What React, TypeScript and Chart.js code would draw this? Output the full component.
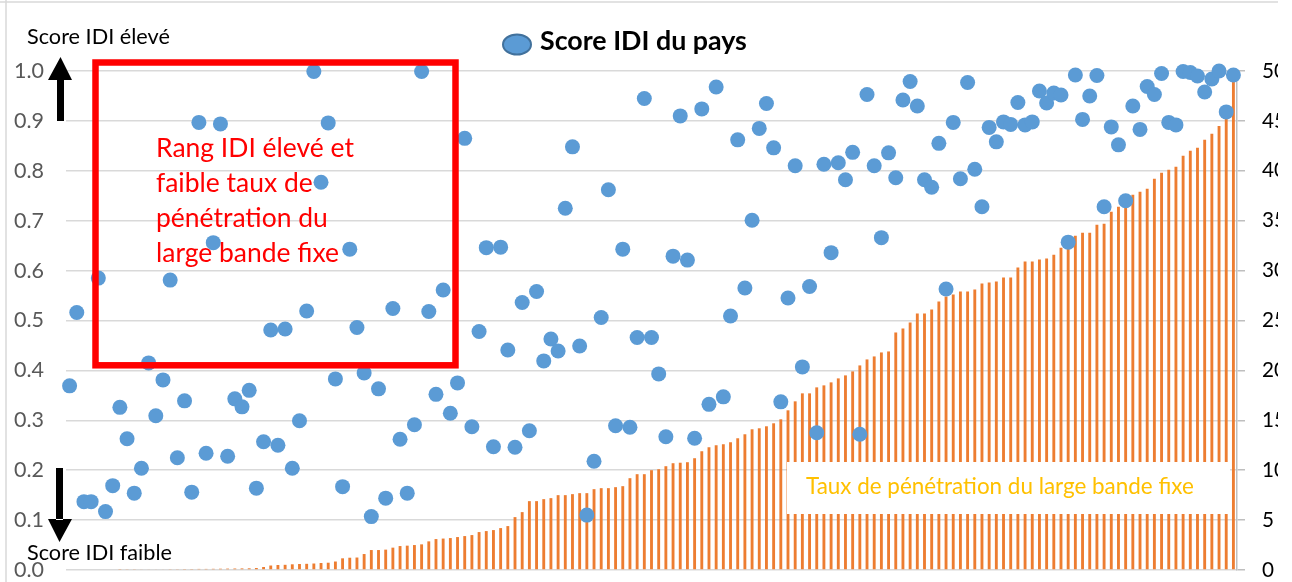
import React, { useEffect, useRef } from "react";
import { Chart, registerables } from "chart.js";
Chart.register(...registerables);

// Countries ranked by fixed broadband penetration (ascending)
const countryRanks: string[] = Array.from({ length: 163 }, (_, i) => String(i + 1));

// Fixed broadband penetration rate (per 100 inhabitants), right axis
const penetration: number[] = [
  0, 0, 0, 0, 0, 0, 0,
  0.05, 0.06, 0.06, 0.07, 0.07, 0.08, 0.08, 0.09, 0.09, 0.10, 0.10, 0.11, 0.11, 0.12, 0.13, 0.14, 0.15, 0.16, 0.17, 0.20,
  0.30, 0.45, 0.50, 0.52, 0.57, 0.60, 0.62, 0.65, 0.70, 0.73, 0.85, 1.17, 1.23, 1.25, 1.60, 2.00, 2.00, 2.04, 2.24, 2.40, 2.44, 2.50, 2.57, 2.87, 3.10, 3.15, 3.20,
  3.3, 3.4, 3.5, 3.8, 3.9, 4.0, 4.2, 4.4, 5.3, 5.8,
  6.9, 6.9, 7.1, 7.2, 7.5, 7.5, 7.6, 7.7, 7.7, 8.1,
  8.2, 8.2, 8.3, 8.4, 9.2, 9.6, 9.6, 10.0, 10.1, 10.4,
  10.7, 10.75, 10.8, 11.2, 11.9, 12.3, 12.5, 12.6, 12.8, 13.2,
  13.6, 14.1, 14.2, 14.4, 14.7, 15.1, 16.0, 16.9, 17.7, 17.7,
  18.3, 18.5, 18.8, 19.2, 19.5,
  19.9, 20.5, 21.1, 21.4, 21.8, 21.9, 23.8, 24.2, 24.8, 25.7,
  25.7, 26.1, 26.9, 27.4, 27.6, 27.9, 27.9, 28.1, 28.7, 28.8,
  28.9, 29.3, 29.3, 30.3, 30.9, 30.9, 31.1, 31.2, 31.6, 32.3,
  32.7, 33.5, 33.8, 33.8, 34.6, 34.7, 35.9, 36.4, 37.0, 37.6,
  37.9, 38.2, 39.2, 39.8, 40.1, 40.4, 41.5, 42.0, 42.3, 43.1,
  43.7, 44.5, 45.5, 49.5,
];

// IDI score of each country (normalised 0-1), left axis
const idiScore: number[] = [
  0.369, 0.516, 0.137, 0.137, 0.585, 0.117, 0.169, 0.326, 0.263, 0.154,
  0.204, 0.415, 0.309, 0.381, 0.581, 0.225, 0.339, 0.156, 0.897, 0.234,
  0.656, 0.894, 0.228, 0.343, 0.327, 0.360, 0.164, 0.257, 0.481, 0.250,
  0.483, 0.204, 0.299, 0.519, 0.999, 0.777, 0.896, 0.383, 0.167, 0.643,
  0.486, 0.395, 0.107, 0.363, 0.144, 0.524, 0.262, 0.154, 0.291, 0.999,
  0.518, 0.352, 0.561, 0.314, 0.375, 0.865, 0.287, 0.478, 0.646, 0.247,
  0.647, 0.441, 0.246, 0.536, 0.279, 0.558, 0.419, 0.463, 0.439, 0.725,
  0.848, 0.449, 0.110, 0.218, 0.506, 0.762, 0.289, 0.643, 0.286, 0.466,
  0.945, 0.466, 0.393, 0.267, 0.629, 0.910, 0.621, 0.264, 0.924, 0.332,
  0.968, 0.347, 0.509, 0.862, 0.565, 0.701, 0.885, 0.935, 0.846, 0.337,
  0.545, 0.810, 0.407, 0.568, 0.275, 0.813, 0.636, 0.816, 0.782, 0.837,
  0.272, 0.953, 0.810, 0.666, 0.836, 0.786, 0.942, 0.979, 0.930, 0.782,
  0.767, 0.855, 0.563, 0.897, 0.784, 0.977, 0.803, 0.728, 0.887, 0.858,
  0.898, 0.893, 0.937, 0.892, 0.898, 0.960, 0.936, 0.956, 0.952, 0.657,
  0.992, 0.903, 0.950, 0.991, 0.728, 0.888, 0.852, 0.740, 0.930, 0.883,
  0.969, 0.953, 0.995, 0.897, 0.892, 0.999, 0.997, 0.990, 0.958, 0.984,
  1.0, 0.918, 0.992,
];

const legendLabel = "Score IDI du pays";
const barLabel = "Taux de pénétration du large bande fixe";
const topLabel = "Score IDI élevé";
const bottomLabel = "Score IDI faible";
const boxLines = ["Rang IDI élevé et", "faible taux de", "pénétration du", "large bande fixe"];

const FONT = "Lato, 'Liberation Sans', sans-serif";
const W = 1278;
const H = 582;

function fitSize(text: string, weight: string, target: number): number {
  const c = document.createElement("canvas").getContext("2d")!;
  c.font = `${weight} 100px ${FONT}`;
  const w = c.measureText(text).width;
  return (100 * target) / w;
}

export default function App() {
  const ref = useRef<HTMLCanvasElement | null>(null);

  useEffect(() => {
    const canvas = ref.current;
    if (!canvas) return;

    const leftTickSize = fitSize("1.0", "normal", 30);
    const rightTickSize = fitSize("50", "normal", 24);
    const legendSize = fitSize(legendLabel, "bold", 207);
    const barLabelSize = fitSize(barLabel, "normal", 388);
    const sideSize = fitSize(topLabel, "normal", 143);
    const boxSize = fitSize(boxLines[0], "normal", 198);

    const annot = {
      id: "annot",
      beforeDraw(chart: any) {
        const ctx = chart.ctx;
        ctx.save();
        ctx.strokeStyle = "#D9D9D9";
        ctx.lineWidth = 1.5;
        ctx.beginPath();
        ctx.moveTo(0, 2);
        ctx.lineTo(W, 2);
        ctx.moveTo(6, 0);
        ctx.lineTo(6, H);
        ctx.stroke();
        ctx.restore();
      },
      afterDatasetsDraw(chart: any) {
        const ctx = chart.ctx;
        ctx.save();
        ctx.fillStyle = "#FFFFFF";
        ctx.fillRect(787, 462, 443, 52);
        ctx.fillStyle = "#FFC000";
        ctx.font = `normal ${barLabelSize}px ${FONT}`;
        ctx.textBaseline = "alphabetic";
        ctx.textAlign = "left";
        ctx.fillText(barLabel, 806, 494);
        ctx.restore();
      },
      afterDraw(chart: any) {
        const ctx = chart.ctx;
        ctx.save();
        // red frame
        ctx.strokeStyle = "#FF0000";
        ctx.lineWidth = 6.5;
        ctx.strokeRect(95.5, 62.5, 360, 302.8);
        // red text
        ctx.fillStyle = "#FF0000";
        ctx.font = `normal ${boxSize}px ${FONT}`;
        ctx.textAlign = "left";
        ctx.textBaseline = "alphabetic";
        boxLines.forEach((t, k) => ctx.fillText(t, 156, 157 + k * 35));
        // side labels
        ctx.fillStyle = "#000000";
        ctx.font = `normal ${sideSize}px ${FONT}`;
        ctx.fillText(topLabel, 27, 44);
        ctx.fillText(bottomLabel, 27, 560);
        // arrows
        ctx.beginPath();
        ctx.rect(57, 79, 7, 42);
        ctx.moveTo(48, 80);
        ctx.lineTo(60.5, 57);
        ctx.lineTo(72, 80);
        ctx.closePath();
        ctx.fill();
        ctx.beginPath();
        ctx.rect(56, 468, 7, 52);
        ctx.moveTo(48, 519);
        ctx.lineTo(59.5, 542);
        ctx.lineTo(72, 519);
        ctx.closePath();
        ctx.fill();
        // legend
        ctx.beginPath();
        ctx.ellipse(517, 44.5, 14, 10, 0, 0, Math.PI * 2);
        ctx.fillStyle = "#5B9BD5";
        ctx.fill();
        ctx.strokeStyle = "#41719C";
        ctx.lineWidth = 2;
        ctx.stroke();
        ctx.fillStyle = "#000000";
        ctx.font = `bold ${legendSize}px ${FONT}`;
        ctx.fillText(legendLabel, 540, 50);
        ctx.restore();
      },
    };

    const chart = new Chart(canvas, {
      type: "bar",
      data: {
        labels: countryRanks,
        datasets: [
          {
            type: "line",
            label: legendLabel,
            data: idiScore,
            yAxisID: "y",
            showLine: false,
            pointRadius: 7.5,
            pointBackgroundColor: "#5B9BD5",
            pointBorderWidth: 0,
            borderColor: "#5B9BD5",
            clip: false as any,
            order: 0,
          } as any,
          {
            type: "bar",
            label: barLabel,
            data: penetration,
            yAxisID: "y1",
            backgroundColor: "#ED7D31",
            barPercentage: 0.4,
            categoryPercentage: 1,
            order: 1,
          },
        ],
      },
      options: {
        responsive: false,
        animation: false,
        devicePixelRatio: 1,
        layout: { padding: { left: 0, right: 0, top: 71, bottom: 12 } },
        plugins: { legend: { display: false }, tooltip: { enabled: false } },
        scales: {
          x: { display: false, offset: true, grid: { display: false } },
          y: {
            position: "left",
            min: 0,
            max: 1,
            ticks: {
              stepSize: 0.1,
              padding: 22,
              color: "#595959",
              font: { family: FONT, size: leftTickSize, lineHeight: 1 },
              callback: (v: any) => Number(v).toFixed(1),
            },
            grid: { color: "#D9D9D9", lineWidth: 1.5, drawTicks: false },
            border: { display: false },
            afterFit: (s: any) => {
              s.width = 66;
              s.paddingTop = 0;
              s.paddingBottom = 0;
            },
          },
          y1: {
            position: "right",
            min: 0,
            max: 50,
            ticks: {
              stepSize: 5,
              padding: 17,
              color: "#000000",
              font: { family: FONT, size: rightTickSize, lineHeight: 1 },
            },
            grid: {
              display: true,
              drawOnChartArea: false,
              drawTicks: true,
              tickLength: 8,
              color: "#BFBFBF",
              lineWidth: 1.5,
            },
            border: { display: true, color: "#BFBFBF", width: 1.5 },
            afterFit: (s: any) => {
              s.width = W - 1237;
              s.paddingTop = 0;
              s.paddingBottom = 0;
            },
          },
        },
      },
      plugins: [annot],
    } as any);

    return () => chart.destroy();
  }, []);

  return (
    <div style={{ position: "absolute", left: 0, top: 0, width: W, height: H, background: "#fff" }}>
      <canvas ref={ref} width={W} height={H} style={{ display: "block", width: W, height: H }} />
    </div>
  );
}
